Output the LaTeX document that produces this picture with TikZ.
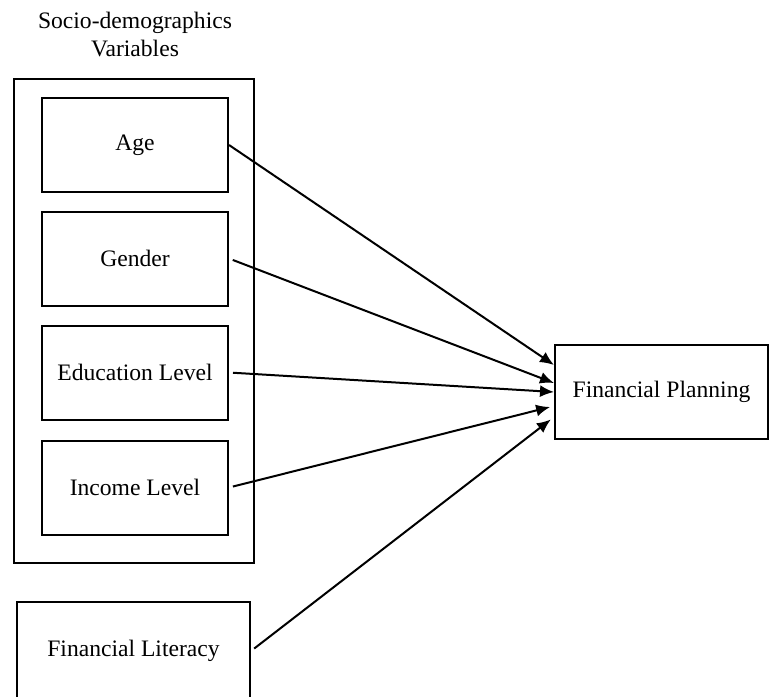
\documentclass[tikz,border=0pt]{standalone}
\usepackage{fontspec}
\setmainfont{Liberation Serif}
\usetikzlibrary{arrows.meta}
\begin{document}
\begin{tikzpicture}[x=0.5pt,y=-0.5pt,
  font=\fontsize{11.8}{14}\selectfont,
  var/.style={draw,line width=1pt,minimum width=93pt,minimum height=47pt,inner sep=0pt},
  link/.style={-{Latex[length=7pt,width=6pt]},line width=1pt}]
  \useasboundingbox (0,0) rectangle (769,696);
  \node[align=center] (title) at (135,34) {Socio-demographics\\Variables};
  \draw[line width=1pt] (14,79) rectangle (254,563);
  \node[var] (age) at (135,145) {Age};
  \node[var] (gender) at (135,258.5) {Gender};
  \node[var] (edu) at (135,372.5) {Education Level};
  \node[var] (income) at (135,487.5) {Income Level};
  \node[var,minimum width=116.5pt,minimum height=49pt] (lit) at (133.5,651) {Financial Literacy};
  \node[var,minimum width=106.5pt] (plan) at (661.5,392) {Financial Planning};
  \draw[link] (age.east) -- ([yshift=13.5pt]plan.west);
  \draw[link,shorten <=2pt] (gender.east) -- ([yshift=4.5pt]plan.west);
  \draw[link,shorten <=2pt] (edu.east) -- (plan.west);
  \draw[link,shorten <=2pt,shorten >=2pt] (income.east) -- ([yshift=-7pt]plan.west);
  \draw[link,shorten <=2pt,shorten >=2pt] (lit.east) -- ([yshift=-12.5pt]plan.west);
\end{tikzpicture}
\end{document}
